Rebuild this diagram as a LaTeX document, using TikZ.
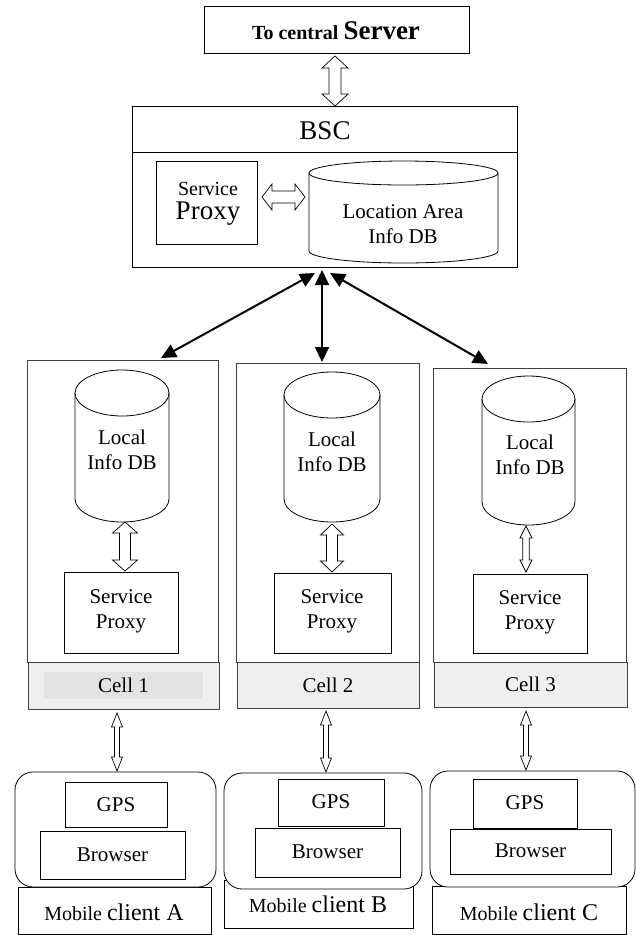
\documentclass[tikz,border=0pt]{standalone}
\usepackage{fontspec}
\setmainfont{Liberation Serif}
\usetikzlibrary{arrows.meta,calc,fit}
\newcommand\fsz{\fontsize{21}{25}\selectfont}
\definecolor{bandgray}{HTML}{EFEFEF}
\definecolor{innergray}{HTML}{E3E3E3}
\tikzset{
  box/.style={draw=black, line width=0.8pt, inner sep=0pt},
  cellbox/.style={draw=black!75, line width=0.8pt, inner sep=0pt},
  bandbox/.style={draw=black!75, fill=bandgray, line width=0.8pt, inner sep=0pt},
  mobbox/.style={draw=black, fill=white, line width=0.8pt, rounded corners=18pt, inner sep=0pt},
  dbline/.style={draw=black, line width=0.8pt, fill=white},
  hollowarrow/.style={draw=black, line width=0.7pt, fill=white, line join=miter},
  fatarrow/.style={line width=2pt, {Triangle[length=15pt,width=14pt]}-{Triangle[length=15pt,width=14pt]}},
  txt/.style={font=\fsz, align=center, inner sep=0pt}
}
% vertical hollow block arrow: #1 top tip, #2 bottom tip, #3 half shaft, #4 half head, #5 head length
\newcommand\vblock[5]{%
  \draw[hollowarrow] let \p1=(#1), \p2=(#2) in
   (\x1,\y1) -- (\x1+#4,\y1-#5) -- (\x1+#3,\y1-#5) -- (\x1+#3,\y2+#5) -- (\x1+#4,\y2+#5)
   -- (\x1,\y2) -- (\x1-#4,\y2+#5) -- (\x1-#3,\y2+#5) -- (\x1-#3,\y1-#5) -- (\x1-#4,\y1-#5) -- cycle;}
% horizontal hollow block arrow: #1 left tip, #2 right tip
\newcommand\hblock[5]{%
  \draw[hollowarrow] let \p1=(#1), \p2=(#2) in
   (\x1,\y1) -- (\x1+#5,\y1+#4) -- (\x1+#5,\y1+#3) -- (\x2-#5,\y1+#3) -- (\x2-#5,\y1+#4)
   -- (\x2,\y1) -- (\x2-#5,\y1-#4) -- (\x2-#5,\y1-#3) -- (\x1+#5,\y1-#3) -- (\x1+#5,\y1-#4) -- cycle;}
% cylinder: #1 name, #2 cx, #3 rx, #4 top y, #5 bottom y, #6 ry
\newcommand\dbcyl[6]{%
  \draw[dbline] (#2-#3,#4+#6) -- (#2-#3,#5-#6) arc[start angle=180, end angle=0, x radius=#3, y radius=#6] -- (#2+#3,#4+#6);
  \draw[dbline] (#2,#4+#6) ellipse[x radius=#3, y radius=#6];
  \coordinate (#1) at (#2,{(#4+#5)/2});}
\begin{document}
\begin{tikzpicture}[x=1pt,y=-1pt]
\useasboundingbox (0,0) rectangle (636,935);

% central server
\node[box, fit={(204,6) (469,53)}] (server) {};
\node[inner sep=0pt, font=\bfseries] (servertxt) at (336,31)
  {{\fontsize{20}{24}\selectfont To central }{\fontsize{27}{30}\selectfont Server}};

% BSC
\node[box, fit={(132,106) (517,267)}] (bsc) {};
\draw[line width=0.8pt] (bsc.west |- 0,152) coordinate (bscdl) -- (bsc.east |- 0,152) coordinate (bscdr);
\node[inner sep=0pt, font=\fontsize{27}{30}\selectfont] (bsctxt) at (325,131) {BSC};
\node[box, fit={(156,161) (257,244)}] (bsp) {};
\node[txt] (bsptxt) at (208,204) {{\fontsize{20}{24}\selectfont Service}\\[-1pt]{\fontsize{27}{30}\selectfont Proxy}};
\dbcyl{ladb}{403.5}{94.5}{161}{263}{12}
\node[txt] (ladbtxt) at (403,224) {Location Area\\Info DB};

\coordinate (srvS) at (335,56);
\coordinate (bscN) at (335,106);
\vblock{srvS}{bscN}{6pt}{13pt}{12pt}
\coordinate (bspE) at (262,197);
\coordinate (ladbW) at (305,197);
\hblock{bspE}{ladbW}{6pt}{13pt}{10pt}

% cells
\node[cellbox, fit={(27,360) (218,662)}] (cell1) {};
\node[cellbox, fit={(236,363) (419,662)}] (cell2) {};
\node[cellbox, fit={(433,368) (626,662)}] (cell3) {};

\node[bandbox, fit={(28,662) (219,709)}] (band1) {};
\fill[innergray] (44,672) rectangle (203,699);
\node[bandbox, fit={(237,662) (419,708)}] (band2) {};
\node[bandbox, fit={(434,662) (627,707)}] (band3) {};
\node[txt] (band1txt) at (123.5,685) {Cell 1};
\node[txt] (band2txt) at (328,685) {Cell 2};
\node[txt] (band3txt) at (530.5,684) {Cell 3};

\dbcyl{db1}{122}{47}{370}{522}{23}
\dbcyl{db2}{332}{48}{372}{522}{23}
\dbcyl{db3}{528.5}{46.5}{376}{525}{23}
\node[txt] (db1txt) at (122,450) {Local\\Info DB};
\node[txt] (db2txt) at (332,452) {Local\\Info DB};
\node[txt] (db3txt) at (530,455) {Local\\Info DB};

\node[box, fit={(64,572) (178,653)}] (sp1) {};
\node[box, fit={(274,573) (391,653)}] (sp2) {};
\node[box, fit={(473,574) (587,653)}] (sp3) {};
\node[txt] (sp1txt) at (121,611) {Service\\Proxy};
\node[txt] (sp2txt) at (332,611) {Service\\Proxy};
\node[txt] (sp3txt) at (530,612) {Service\\Proxy};

\coordinate (db1S) at (125,522); \coordinate (sp1N) at (125,571);
\coordinate (db2S) at (332,524); \coordinate (sp2N) at (332,572);
\coordinate (db3S) at (526,526); \coordinate (sp3N) at (526,572);
\vblock{db1S}{sp1N}{5.5pt}{12.5pt}{11pt}
\vblock{db2S}{sp2N}{5.5pt}{11.5pt}{11pt}
\vblock{db3S}{sp3N}{3.3pt}{6pt}{12pt}

% BSC to cells
\coordinate (hubL) at (315,273);
\coordinate (hubM) at (322,270);
\coordinate (hubR) at (330,273);
\coordinate (c1top) at (161,358);
\coordinate (c2top) at (322,362);
\coordinate (c3top) at (488,364);
\draw[fatarrow] (hubL) -- (c1top);
\draw[fatarrow] (hubM) -- (c2top);
\draw[fatarrow] (hubR) -- (c3top);

% mobile clients
\node[box, fit={(18,887) (211,934)}] (labA) {};
\node[box, fit={(224,880) (413,928)}] (labB) {};
\node[box, fit={(432,886) (626,934)}] (labC) {};
\node[inner sep=0pt] (labAtxt) at (114,912) {{\fontsize{20}{24}\selectfont Mobile }{\fontsize{24}{28}\selectfont client A}};
\node[inner sep=0pt] (labBtxt) at (318,904) {{\fontsize{20}{24}\selectfont Mobile }{\fontsize{24}{28}\selectfont client B}};
\node[inner sep=0pt] (labCtxt) at (529,912) {{\fontsize{20}{24}\selectfont Mobile }{\fontsize{24}{28}\selectfont client C}};

\node[mobbox, fit={(15,772) (216,887)}] (mob1) {};
\node[mobbox, fit={(224,773) (422,889)}] (mob2) {};
\node[mobbox, fit={(430,771) (635,887)}] (mob3) {};

\node[box, fit={(65,782) (167,827)}] (gps1) {};
\node[box, fit={(40,831) (185,879)}] (br1) {};
\node[box, fit={(278,779) (384,826)}] (gps2) {};
\node[box, fit={(255,828) (400,877)}] (br2) {};
\node[box, fit={(473,779) (577,828)}] (gps3) {};
\node[box, fit={(450,829) (611,874)}] (br3) {};
\node[txt] (gps1txt) at (116,805) {GPS};
\node[txt] (br1txt) at (112.5,855) {Browser};
\node[txt] (gps2txt) at (331,802) {GPS};
\node[txt] (br2txt) at (327.5,852) {Browser};
\node[txt] (gps3txt) at (525,803) {GPS};
\node[txt] (br3txt) at (530.5,851) {Browser};

\coordinate (b1S) at (117,713); \coordinate (m1N) at (117,771);
\coordinate (b2S) at (326,711); \coordinate (m2N) at (326,772);
\coordinate (b3S) at (526,711); \coordinate (m3N) at (526,770);
\vblock{b1S}{m1N}{2.5pt}{5.5pt}{14pt}
\vblock{b2S}{m2N}{2.5pt}{5.5pt}{14pt}
\vblock{b3S}{m3N}{2.5pt}{5.5pt}{14pt}
\end{tikzpicture}
\end{document}
